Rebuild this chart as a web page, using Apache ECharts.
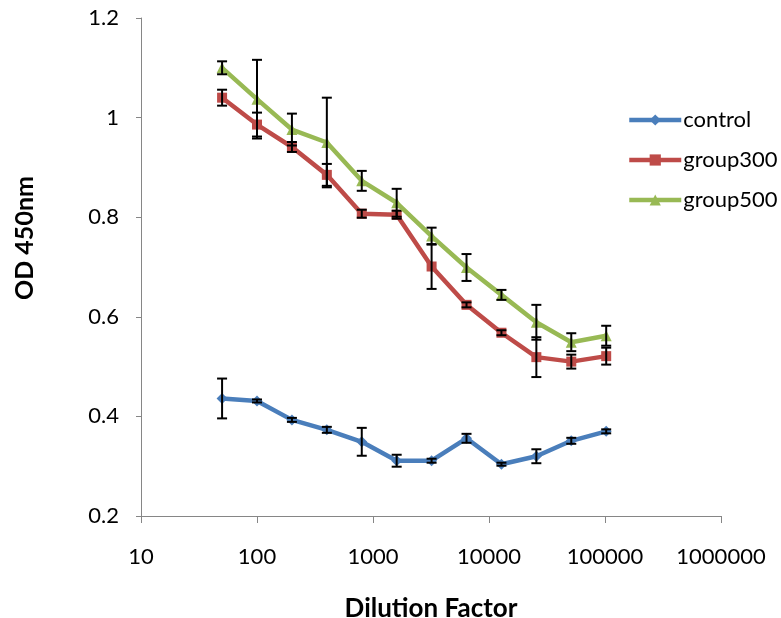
<!DOCTYPE html>
<html>
<head>
<meta charset="utf-8">
<script src="https://cdn.jsdelivr.net/npm/echarts@6/dist/echarts.min.js"></script>
<style>
  html, body { margin: 0; padding: 0; background: #fff; }
  #chart { width: 781px; height: 618px; }
</style>
</head>
<body>
<div id="chart"></div>
<script>
// Serial dilutions (log scale on x)
const dilutions = [50, 100, 200, 400, 800, 1600, 3200, 6400, 12800, 25600, 51200, 102400];

// Mean OD at 450 nm per dilution
const control  = [0.436, 0.431, 0.393, 0.373, 0.349, 0.311, 0.311, 0.356, 0.304, 0.320, 0.351, 0.370];
const group300 = [1.040, 0.986, 0.941, 0.885, 0.807, 0.805, 0.701, 0.624, 0.568, 0.519, 0.510, 0.521];
const group500 = [1.100, 1.037, 0.976, 0.950, 0.873, 0.829, 0.762, 0.699, 0.644, 0.589, 0.549, 0.562];

// Standard deviations (symmetric error bars)
const controlErr  = [0.040, 0.003, 0.004, 0.006, 0.028, 0.012, 0.004, 0.009, 0.003, 0.014, 0.006, 0.004];
const group300Err = [0.016, 0.024, 0.010, 0.022, 0.008, 0.008, 0.045, 0.005, 0.005, 0.040, 0.014, 0.017];
const group500Err = [0.013, 0.079, 0.032, 0.090, 0.020, 0.028, 0.017, 0.027, 0.010, 0.035, 0.018, 0.020];

const yTicks = [0.2, 0.4, 0.6, 0.8, 1, 1.2];

const FONT = 'Lato';
const colors = { control: '#4a7ebb', group300: '#be4b48', group500: '#98b954' };

function points(values) {
  return dilutions.map((d, i) => [d, values[i]]);
}
function errorData(values, errs) {
  return dilutions.map((d, i) => [d, values[i] - errs[i], values[i] + errs[i]]);
}
function errorBars(name, values, errs, z) {
  return {
    type: 'custom',
    name: name + ' SD',
    z: z,
    silent: true,
    data: errorData(values, errs),
    encode: { x: 0, y: [1, 2] },
    renderItem: function (params, api) {
      const x = api.value(0);
      const lo = api.coord([x, api.value(1)]);
      const hi = api.coord([x, api.value(2)]);
      const half = 5;
      const style = { stroke: '#000', lineWidth: 2 };
      return {
        type: 'group',
        children: [
          { type: 'line', shape: { x1: lo[0], y1: lo[1], x2: hi[0], y2: hi[1] }, style: style },
          { type: 'line', shape: { x1: lo[0] - half, y1: lo[1], x2: lo[0] + half, y2: lo[1] }, style: style },
          { type: 'line', shape: { x1: hi[0] - half, y1: hi[1], x2: hi[0] + half, y2: hi[1] }, style: style }
        ]
      };
    }
  };
}
function lineSeries(name, values, symbol, size, color, z) {
  return {
    type: 'line',
    name: name,
    z: z,
    data: points(values),
    symbol: symbol,
    symbolSize: size,
    showAllSymbol: true,
    lineStyle: { color: color, width: 4.5 },
    itemStyle: { color: color, borderWidth: 0 },
    emphasis: { disabled: true }
  };
}

const chart = echarts.init(document.getElementById('chart'), null, { renderer: 'canvas' });
chart.setOption({
  animation: false,
  backgroundColor: '#ffffff',
  grid: { left: 141, right: 60, top: 18, bottom: 102, containLabel: false, outerBoundsMode: 'none' },
  legend: {
    orient: 'vertical',
    left: 622,
    top: 104,
    itemWidth: 52,
    itemHeight: 14,
    itemGap: 18,
    lineStyle: { width: 4.5 },
    data: ['control', 'group300', 'group500'],
    textStyle: { fontFamily: FONT, fontSize: 22, color: '#000', lineHeight: 22, padding: [0, 0, 0, -3] }
  },
  graphic: [{
    type: 'text',
    x: 25,
    y: 238,
    rotation: Math.PI / 2,
    style: {
      text: 'OD 450nm',
      fontFamily: FONT,
      fontSize: 25,
      fontWeight: 'bold',
      fill: '#000',
      align: 'center',
      verticalAlign: 'middle'
    }
  }],
  xAxis: {
    type: 'log',
    logBase: 10,
    min: 10,
    max: 1000000,
    name: 'Dilution Factor',
    nameLocation: 'middle',
    nameGap: 80,
    nameTextStyle: { fontFamily: FONT, fontSize: 26, fontWeight: 'bold', color: '#000' },
    axisLine: { show: true, lineStyle: { color: '#868686', width: 1 } },
    axisTick: { show: true, length: 7, lineStyle: { color: '#868686' } },
    minorTick: { show: false },
    splitLine: { show: false },
    axisLabel: { fontFamily: FONT, fontSize: 22, color: '#000', margin: 30,
      formatter: v => String(Math.round(v)) }
  },
  yAxis: {
    type: 'value',
    min: yTicks[0],
    max: yTicks[yTicks.length - 1],
    interval: 0.2,
    axisLine: { show: true, lineStyle: { color: '#868686', width: 1 } },
    axisTick: { show: true, length: 5, lineStyle: { color: '#868686' } },
    splitLine: { show: false },
    axisLabel: { fontFamily: FONT, fontSize: 22, color: '#000', margin: 22,
      formatter: v => String(Math.round(v * 10) / 10) }
  },
  series: [
    lineSeries('control', control, 'diamond', 11, colors.control, 2),
    errorBars('control', control, controlErr, 3),
    lineSeries('group300', group300, 'rect', 10, colors.group300, 4),
    errorBars('group300', group300, group300Err, 5),
    lineSeries('group500', group500, 'triangle', 11, colors.group500, 6),
    errorBars('group500', group500, group500Err, 7)
  ]
});
</script>
</body>
</html>
